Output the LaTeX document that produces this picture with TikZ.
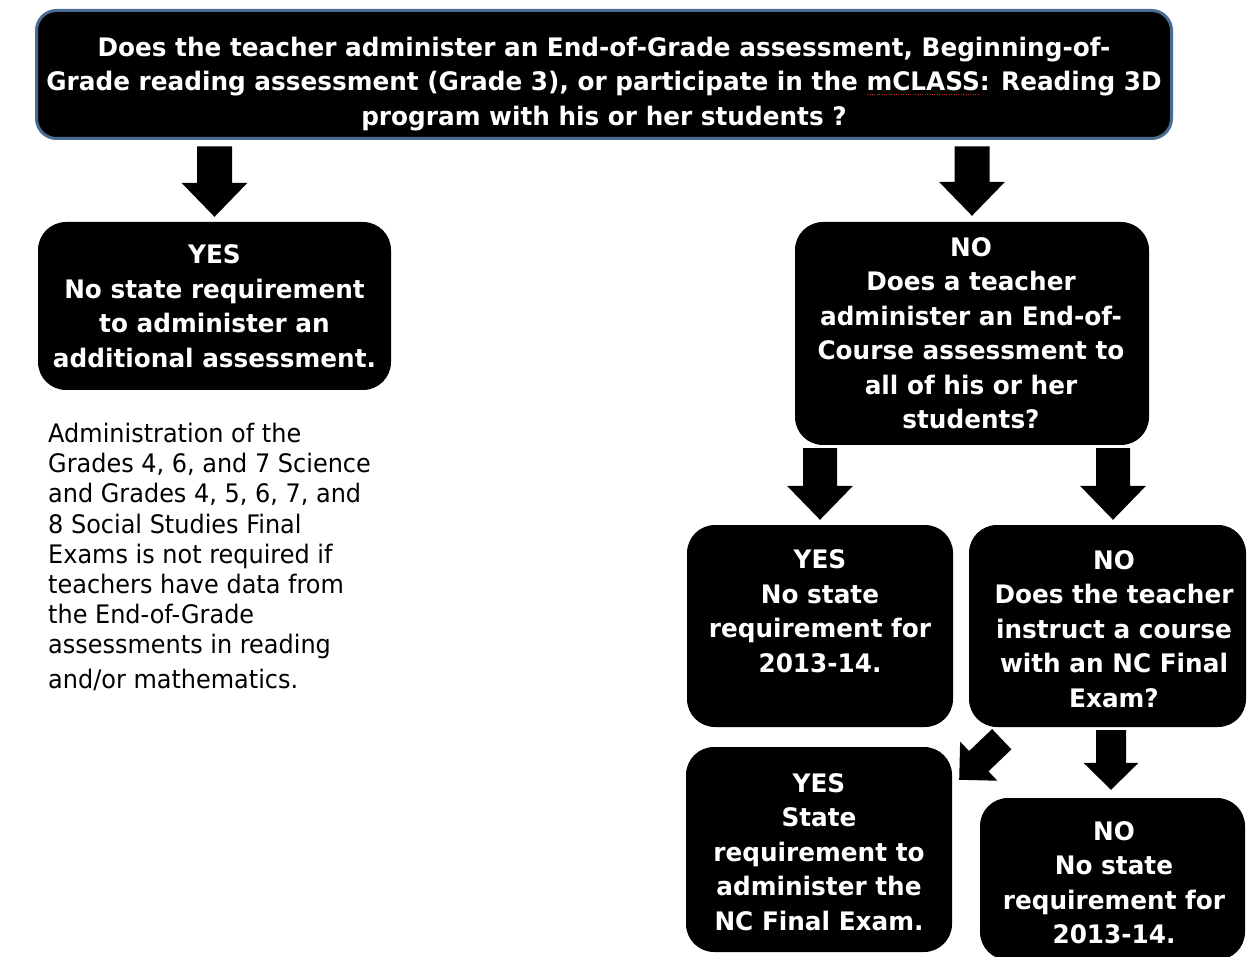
\documentclass[tikz,border=0pt]{standalone}
\usepackage{fontspec}
\setmainfont{DejaVu Sans}[FakeStretch=0.94]
\newfontfamily\boxfont{DejaVu Sans}[FakeStretch=0.97]
\usetikzlibrary{calc}
\definecolor{qborder}{HTML}{4A6C93}
\definecolor{spellred}{HTML}{D02020}
\newcommand\fatarrow[5]{%
  \coordinate (fah) at ($(#2)!#5!(#1)$);
  \fill[blockarrow] ($(#1)!#3!90:(#2)$) -- ($(fah)!#3!90:(#2)$) -- ($(fah)!#4!90:(#2)$) -- (#2)
    -- ($(fah)!#4!-90:(#2)$) -- ($(fah)!#3!-90:(#2)$) -- ($(#1)!#3!-90:(#2)$) -- cycle;}
\newcommand\spellmark[1]{{\setbox0\hbox{#1}\rlap{\raisebox{-4pt}{\color{spellred}\leaders\hbox to 2.4pt{\hss\rule{1.1pt}{1.1pt}\hss}\hskip\wd0}}\box0}}
\begin{document}
\begin{tikzpicture}[x=1pt,y=-1pt,
  box/.style={fill=black, rounded corners=28pt, inner sep=0pt},
  boxtext/.style={text=white, font=\boxfont\bfseries\fontsize{25.5}{34.5}\selectfont, align=center, inner sep=0pt},
  bodytext/.style={text=black, font=\fontsize{25.5}{30.2}\selectfont, align=left, inner sep=0pt},
  blockarrow/.style={fill=black}]
\useasboundingbox[fill=white] (0,0) rectangle (1248,957);

% boxes
\node[box, rounded corners=20pt, draw=qborder, line width=3pt, minimum width=1135pt, minimum height=128pt] (q1) at (604,74.5) {};
\node[box, minimum width=353pt, minimum height=168pt] (yes1) at (214.5,306) {};
\node[box, minimum width=354pt, minimum height=223pt] (no1) at (972,333.5) {};
\node[box, minimum width=266pt, minimum height=202pt] (yes2) at (820,626) {};
\node[box, minimum width=277pt, minimum height=202pt] (no2) at (1107.5,626) {};
\node[box, minimum width=266pt, minimum height=205pt] (yes3) at (819,849.5) {};
\node[box, minimum width=265pt, minimum height=162pt] (no3) at (1112.5,879) {};

% texts
\node[boxtext] (q1t) at (604,84) {Does the teacher administer an End-of-Grade assessment, Beginning-of-\\Grade reading assessment (Grade 3), or participate in the \spellmark{mCLASS}: Reading 3D\\program with his or her students ?};
\node[boxtext] (yes1t) at (214.5,306) {YES\\No state requirement\\to administer an\\additional assessment.};
\node[boxtext] (no1t) at (971,333) {NO\\Does a teacher\\administer an End-of-\\Course assessment to\\all of his or her\\students?};
\node[boxtext] (yes2t) at (820,611) {YES\\No state\\requirement for\\2013-14.};
\node[boxtext] (no2t) at (1114,629) {NO\\Does the teacher\\instruct a course\\with an NC Final\\Exam?};
\node[boxtext] (yes3t) at (819,852) {YES\\State\\requirement to\\administer the\\NC Final Exam.};
\node[boxtext] (no3t) at (1114,882.5) {NO\\No state\\requirement for\\2013-14.};
\node[bodytext, anchor=north west] (note) at (48,423) {Administration of the\\Grades 4, 6, and 7 Science\\and Grades 4, 5, 6, 7, and\\8 Social Studies Final\\Exams is not required if\\teachers have data from\\the End-of-Grade\\assessments in reading\\[4pt]and/or mathematics.};

% connectors
\coordinate (a1s) at ($(q1.south -| yes1.north)+(0,6.5)$);
\coordinate (a1e) at ($(yes1.north)+(0,-5)$);
\fatarrow{a1s}{a1e}{17.5pt}{33pt}{34pt}
\coordinate (a2s) at ($(q1.south -| no1.north)+(0,6.5)$);
\coordinate (a2e) at ($(no1.north)+(0,-6)$);
\fatarrow{a2s}{a2e}{17.5pt}{33pt}{34pt}
\coordinate (a3s) at ($(no1.south -| yes2.north)+(0,3)$);
\coordinate (a3e) at ($(yes2.north)+(0,-5)$);
\fatarrow{a3s}{a3e}{17pt}{33pt}{34pt}
\coordinate (a4s) at ($(no1.south -| no2.north)+(5.5,3)$);
\coordinate (a4e) at ($(no2.north)+(5.5,-5)$);
\fatarrow{a4s}{a4e}{17pt}{33pt}{34pt}
\coordinate (a5s) at ($(no2.south west)+(33,12)$);
\coordinate (a5e) at ($(yes3.north east)+(7,33)$);
\fatarrow{a5s}{a5e}{14pt}{27pt}{27pt}
\coordinate (a6s) at ($(no2.south -| no3.north)+(-1.5,3)$);
\coordinate (a6e) at ($(no3.north)+(-1.5,-8)$);
\fatarrow{a6s}{a6e}{15pt}{27.5pt}{27pt}
\end{tikzpicture}
\end{document}
